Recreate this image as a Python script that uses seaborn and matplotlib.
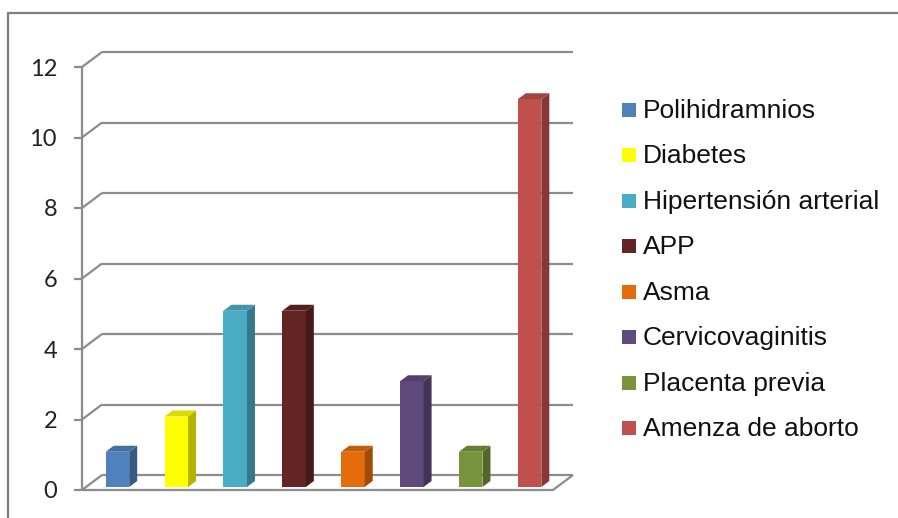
import matplotlib
matplotlib.use("Agg")
import matplotlib.pyplot as plt
from matplotlib.patches import Polygon, Rectangle
from matplotlib.lines import Line2D
import matplotlib.colors as mc
import seaborn as sns
import pandas as pd

# --- data -------------------------------------------------------------
categories = ["Polihidramnios", "Diabetes", "Hipertensión arterial", "APP",
              "Asma", "Cervicovaginitis", "Placenta previa", "Amenza de aborto"]
values = [1, 2, 5, 5, 1, 3, 1, 11]
front_colors = ["#4F81BD", "#FFFF00", "#4BACC6", "#632523",
                "#E46C0A", "#604A7B", "#77933C", "#C0504D"]
y_ticks = [0, 2, 4, 6, 8, 10, 12]

sns.set_theme(style="white")
plt.rcParams["font.family"] = ["Liberation Sans", "DejaVu Sans"]

W, H = 898, 518
fig = plt.figure(figsize=(W / 100, H / 100), dpi=100)
fig.patch.set_facecolor("white")


def fx(px):
    return px / W


def fy(py):
    return 1 - py / H


# axes placed on the plane of the bar front faces
ax = fig.add_axes([fx(88), fy(487), 471 / W, 423 / H])
df = pd.DataFrame({"cat": categories, "val": values})
sns.barplot(data=df, x="cat", y="val", hue="cat", palette=front_colors,
            width=0.4, saturation=1, ax=ax, legend=False, zorder=4,
            edgecolor="none", linewidth=0)
ax.set_xlim(-0.5, len(categories) - 0.5)
ax.set_ylim(0, 12)
ax.axis("off")

ppx = ax.bbox.width / len(categories)
ppy = ax.bbox.height / 12


def P(x, y, ox=0.0, oy=0.0):
    """data point shifted by a pixel offset (oy positive = up)"""
    return (x + ox / ppx, y + oy / ppy)


FRONT = (-6, -3)   # front plane of the box
BACK = (14, 12)    # back wall
DEPTH = (8, 6)     # bar thickness
grid_kw = dict(color="#8c8c8c", lw=1.6, clip_on=False, zorder=1,
               solid_capstyle="butt")

x_lo, x_hi = -0.5, len(categories) - 0.5

# back-wall gridlines and side-wall diagonals
for t in y_ticks:
    a = P(x_lo, t, *BACK)
    b = P(x_hi, t, *BACK)
    ax.add_line(Line2D([a[0], b[0]], [a[1], b[1]], **grid_kw))
    c = P(x_lo, t, *FRONT)
    ax.add_line(Line2D([c[0], a[0]], [c[1], a[1]], **grid_kw))
    # tick mark on the front axis
    d = P(x_lo, t, FRONT[0] - 8, FRONT[1])
    ax.add_line(Line2D([d[0], c[0]], [d[1], c[1]], **grid_kw))
    ax.text(*P(x_lo, t, FRONT[0] - 25, FRONT[1] - 8.5), str(t),
            ha="right", va="baseline", fontsize=17, color="#222222",
            family=["Lato", "DejaVu Sans"])

# floor outline
f0 = P(x_lo, 0, *FRONT)
f1 = P(x_hi, 0, *FRONT)
f2 = P(x_hi, 0, *BACK)
ax.add_line(Line2D([f0[0], f1[0], f2[0]], [f0[1], f1[1], f2[1]], **grid_kw))
# vertical axis line
v1 = P(x_lo, 12, *FRONT)
ax.add_line(Line2D([f0[0], v1[0]], [f0[1], v1[1]], **grid_kw))

# side and top faces of each bar
for patch, col in zip(ax.patches, front_colors):
    x0 = patch.get_x()
    x1 = x0 + patch.get_width()
    h = patch.get_height()
    rgb = mc.to_rgb(col)
    side = tuple(c * 0.70 for c in rgb)
    top = tuple(c * 0.86 for c in rgb)
    ax.add_patch(Polygon([P(x1, 0), P(x1, 0, *DEPTH), P(x1, h, *DEPTH), P(x1, h)],
                         closed=True, facecolor=side, edgecolor="none",
                         clip_on=False, zorder=4))
    ax.add_patch(Polygon([P(x0, h), P(x1, h), P(x1, h, *DEPTH), P(x0, h, *DEPTH)],
                         closed=True, facecolor=top, edgecolor="none",
                         clip_on=False, zorder=4))

# legend
for k, (name, col) in enumerate(zip(categories, front_colors)):
    yc = 110 + 45.43 * k
    fig.patches.append(Rectangle((fx(622), fy(yc + 7)), 14 / W, 14 / H,
                                 transform=fig.transFigure, facecolor=col,
                                 edgecolor="none"))
    fig.text(fx(643), fy(yc + 8), name, ha="left", va="baseline",
             fontsize=19, color="#111111")

# chart frame
frame_kw = dict(color="#7f7f7f", lw=1.6, transform=fig.transFigure)
fig.lines.append(Line2D([fx(8), 1.0], [fy(13), fy(13)], **frame_kw))
fig.lines.append(Line2D([fx(8), fx(8)], [fy(13), 0.0], **frame_kw))

fig.savefig("out.png", dpi=100, facecolor="white")
